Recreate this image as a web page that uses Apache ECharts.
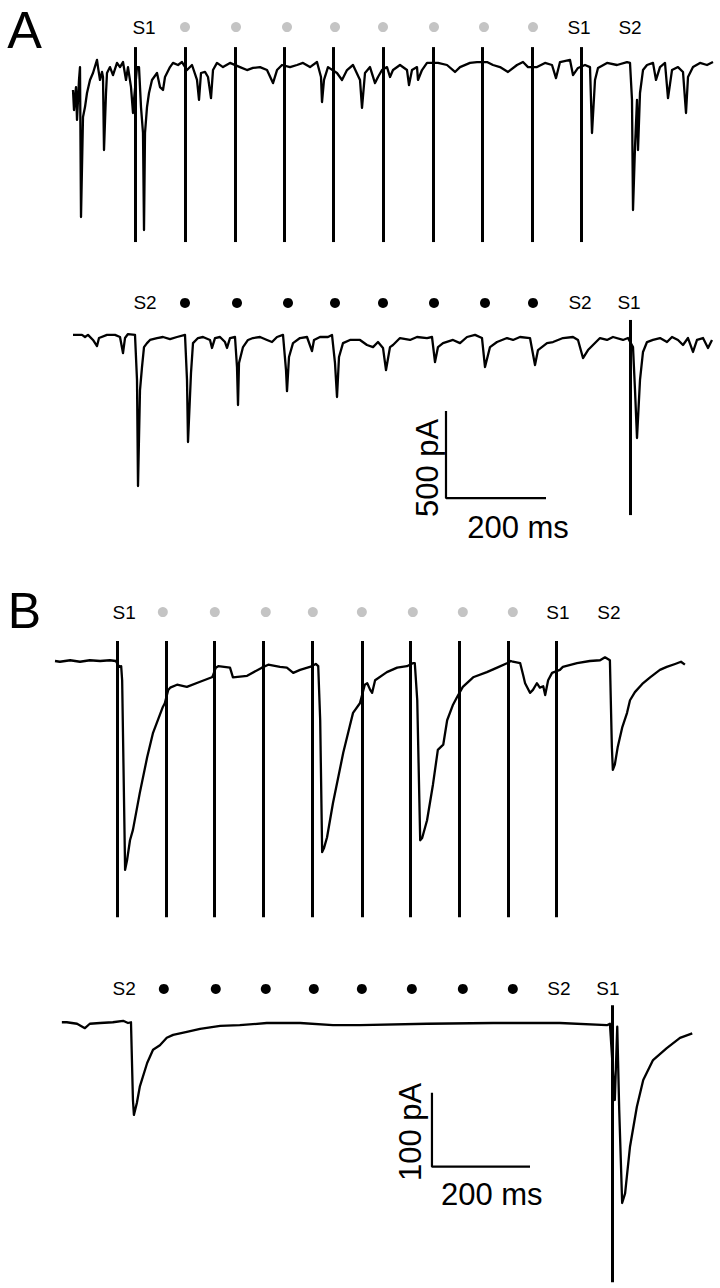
<!DOCTYPE html>
<html><head><meta charset="utf-8">
<script src="https://cdn.jsdelivr.net/npm/echarts@6/dist/echarts.min.js"></script>
<style>html,body{margin:0;padding:0;background:#fff}#c{width:720px;height:1288px}</style>
</head><body><div id="c"></div>
<script>
// ---------- DATA (time in ms, current in pA) ----------
// Panel A, top trace (S1 train then S1, S2)
const traceATop = [[2,-144],[4,-259],[8,-127],[10,-316],[14,-86],[16,-12],[18,-874],[22,-299],[26,-242],[30,-161],[36,-86],[42,-46],[50,29],[52,-12],[56,-86],[60,-40],[62,-69],[64,-489],[68,-161],[70,-46],[76,-12],[82,-58],[90,12],[96,-12],[102,17],[108,-86],[112,-12],[118,-127],[122,-276],[124,-201],[130,-12],[134,-12],[138,-242],[142,-391],[144,-949],[146,-391],[150,-242],[154,-161],[160,-86],[170,-46],[176,-127],[182,-144],[186,-69],[196,-12],[202,12],[212,0],[220,17],[230,-29],[240,0],[250,-86],[254,-201],[258,-46],[266,-40],[272,-69],[278,-190],[282,-29],[290,12],[302,-12],[316,12],[336,-12],[350,-29],[362,-17],[376,-12],[390,-29],[402,-104],[410,-29],[420,0],[436,-12],[450,0],[462,12],[476,-12],[490,17],[498,-69],[500,-213],[504,-86],[512,-12],[530,-46],[540,-86],[550,-29],[562,0],[576,-86],[580,-247],[586,-46],[596,-12],[606,-104],[612,-69],[620,-29],[630,-12],[636,-69],[642,-29],[656,0],[670,-29],[674,-115],[680,-29],[690,-12],[692,-86],[700,-29],[710,12],[732,12],[750,0],[766,-40],[776,-12],[796,12],[810,17],[830,17],[842,0],[856,-12],[872,-40],[890,0],[902,17],[912,-12],[930,-12],[946,12],[960,0],[968,-75],[976,17],[996,29],[1002,-58],[1012,-17],[1026,0],[1036,-12],[1040,-391],[1046,-86],[1052,-17],[1070,12],[1090,0],[1110,17],[1116,12],[1120,-201],[1122,-834],[1126,-472],[1130,-201],[1132,-489],[1136,-161],[1142,-29],[1150,0],[1162,12],[1168,-86],[1176,-12],[1186,12],[1192,-190],[1200,-29],[1212,-12],[1222,-40],[1228,-276],[1232,-69],[1242,-12],[1256,12],[1270,0],[1282,17]];
const stimATop = [126,226,326,424,522,622,722,820,920,1018];
const stimATopRange = [103,-1018];
const dotsATop = [226,328,430,526,622,724,824,922];
const labelsATop = [[144,'S1'],[1014,'S1'],[1116,'S2']];
const labelYATop = 218;

// Panel A, bottom trace (S2 train then S2, S1)
const traceABot = [[2,12],[20,12],[26,0],[32,12],[42,-17],[50,-52],[54,-6],[70,12],[86,12],[96,0],[102,-92],[106,-6],[112,17],[126,12],[130,-247],[132,-857],[136,-305],[140,-173],[144,-58],[150,-35],[156,-17],[170,-6],[182,0],[196,-12],[210,0],[226,12],[230,-247],[232,-604],[238,-207],[242,-35],[252,-6],[262,0],[276,-17],[280,-63],[286,-6],[296,0],[306,-29],[310,-63],[316,-6],[326,0],[330,-173],[332,-391],[334,-150],[342,-58],[352,-17],[362,-6],[376,0],[390,-17],[400,-29],[410,0],[422,12],[428,-190],[430,-311],[434,-115],[442,-35],[456,-6],[470,0],[480,-81],[484,-17],[496,0],[512,0],[520,12],[526,-150],[530,-345],[534,-115],[542,-35],[556,-17],[576,-17],[590,-46],[602,-58],[612,-29],[622,-63],[628,-190],[636,-58],[642,-46],[656,-6],[676,-17],[690,0],[710,-6],[720,0],[726,-144],[732,-58],[742,-35],[762,-17],[776,-35],[790,0],[806,12],[820,-6],[826,-173],[836,-58],[850,-29],[870,-6],[882,-17],[896,0],[916,-6],[926,-161],[932,-75],[950,-35],[962,-29],[982,-6],[1002,0],[1012,-17],[1022,-121],[1032,-75],[1042,-46],[1056,-6],[1070,-17],[1082,0],[1102,-17],[1112,-6],[1122,-58],[1126,-305],[1130,-581],[1136,-247],[1142,-86],[1150,-29],[1162,-17],[1176,-6],[1190,-29],[1200,0],[1212,-17],[1222,-46],[1232,-6],[1242,-86],[1250,-17],[1262,-6],[1272,-63],[1280,-17]];
const stimABot = [1116];
const stimABotRange = [98,-1024];
const dotsABot = [226,330,432,526,622,724,826,922];
const labelsABot = [[146,'S2'],[1016,'S2'],[1114,'S1']];
const labelYABot = 196;
const scaleBarA = [[748,-426],[748,-926],[948,-926]];   // 500 pA, 200 ms
const scaleTextA = [[710,-753,'500 pA',90],[892,-1098,'200 ms',0]];

// Panel B, top trace
const traceBTop = [[0,0],[10,-1],[31,1],[51,-1],[71,1],[92,0],[112,1],[124,0],[131,-8],[135,-7],[137,-26],[143,-282],[147,-269],[153,-242],[159,-228],[173,-178],[188,-130],[200,-97],[220,-62],[224,-57],[231,-39],[235,-36],[249,-32],[269,-35],[296,-28],[320,-22],[322,-20],[328,-9],[333,-7],[357,-9],[363,-22],[392,-20],[422,-9],[435,-5],[459,-8],[473,-9],[486,-16],[500,-12],[520,-8],[532,-4],[537,-7],[541,-80],[545,-258],[549,-252],[555,-238],[567,-192],[588,-124],[602,-86],[608,-70],[622,-57],[632,-32],[637,-30],[643,-39],[647,-43],[653,-26],[677,-15],[698,-9],[718,-7],[730,-3],[734,-3],[739,-53],[745,-242],[749,-239],[759,-215],[771,-167],[781,-120],[792,-113],[800,-80],[812,-59],[820,-49],[832,-35],[853,-22],[881,-15],[902,-9],[922,-3],[930,0],[934,-1],[949,-3],[955,-19],[959,-30],[969,-43],[975,-39],[983,-30],[989,-36],[996,-34],[1000,-46],[1006,-26],[1014,-16],[1030,-12],[1036,-8],[1065,-3],[1091,0],[1112,1],[1122,5],[1132,1],[1136,-116],[1138,-147],[1142,-140],[1148,-116],[1157,-90],[1167,-70],[1173,-53],[1183,-42],[1198,-31],[1214,-22],[1234,-12],[1248,-8],[1265,-4],[1277,-1],[1285,-5]];
const stimBTop = [126,226,324,424,524,626,724,824,924,1022];
const stimBTopRange = [27,-346];
const dotsBTop = [220,326,430,526,626,730,832,934];
const labelsBTop = [[141,'S1'],[1026,'S1'],[1130,'S2']];
const labelYBTop = 66;

// Panel B, bottom trace
const traceBBot = [[14,1],[24,1],[45,-1],[61,-7],[71,-1],[92,0],[118,1],[139,3],[149,0],[155,1],[159,-104],[161,-124],[167,-108],[173,-86],[188,-54],[200,-36],[214,-30],[228,-20],[241,-16],[269,-12],[296,-8],[337,-4],[377,-3],[432,0],[500,0],[567,-3],[622,-3],[759,-1],[894,0],[1030,0],[1126,-3],[1132,-1],[1142,-104],[1147,-5],[1151,-117],[1157,-243],[1163,-230],[1173,-167],[1187,-113],[1200,-77],[1220,-50],[1248,-34],[1275,-20],[1300,-14]];
const stimBBot = [1136];
const stimBBotRange = [24,-350];
const dotsBBot = [222,328,430,528,626,728,832,934];
const labelsBBot = [[141,'S2'],[1028,'S2'],[1128,'S1']];
const labelYBBot = 46;
const scaleBarB = [[769,-94],[769,-194],[969,-194]];   // 100 pA, 200 ms
const scaleTextB = [[726,-147,'100 pA',90],[891,-231,'200 ms',0]];

// ---------- CHART ----------
const FONT = 'Liberation Sans, Arial, Helvetica, sans-serif';
const grids = [
  {left:72, top:10,  width:642, height:240, x:[0,1284],   y:[-1063.75,316.25]},
  {left:72, top:285, width:642, height:260, x:[0,1284],   y:[-1196,299]},
  {left:55, top:595, width:645, height:330, x:[0,1315.8], y:[-356.4,89.1]},
  {left:55, top:975, width:645, height:310, x:[0,1315.8], y:[-353.7,64.8]}
];
const panels = [
  {trace:traceATop, stim:stimATop, range:stimATopRange, dots:dotsATop, dotColor:'#c4c4c4', labels:labelsATop, ly:labelYATop},
  {trace:traceABot, stim:stimABot, range:stimABotRange, dots:dotsABot, dotColor:'#000', labels:labelsABot, ly:labelYABot, bar:scaleBarA, barText:scaleTextA},
  {trace:traceBTop, stim:stimBTop, range:stimBTopRange, dots:dotsBTop, dotColor:'#c4c4c4', labels:labelsBTop, ly:labelYBTop},
  {trace:traceBBot, stim:stimBBot, range:stimBBotRange, dots:dotsBBot, dotColor:'#000', labels:labelsBBot, ly:labelYBBot, bar:scaleBarB, barText:scaleTextB}
];

const series = [];
panels.forEach((p, i) => {
  series.push({
    type:'line', xAxisIndex:i, yAxisIndex:i, data:p.trace, showSymbol:false, symbol:'none',
    lineStyle:{color:'#000', width:2.3, join:'round'}, animation:false, silent:true, clip:false,
    markLine:{symbol:'none', silent:true, animation:false, label:{show:false},
      lineStyle:{color:'#000', width:3, type:'solid', opacity:1},
      data:p.stim.map(t => [{coord:[t, p.range[0]]},{coord:[t, p.range[1]]}])}
  });
  series.push({
    type:'scatter', xAxisIndex:i, yAxisIndex:i, data:p.dots.map(t => [t, p.ly]),
    symbolSize:10, itemStyle:{color:p.dotColor, opacity:1}, animation:false, silent:true
  });
  series.push({
    type:'scatter', xAxisIndex:i, yAxisIndex:i, symbolSize:0, animation:false, silent:true,
    itemStyle:{opacity:1},
    data:p.labels.map(l => ({value:[l[0], p.ly], name:l[1]})),
    label:{show:true, position:'inside', formatter:'{b}', color:'#000', fontSize:19, fontFamily:FONT}
  });
  if (p.bar) {
    series.push({
      type:'line', xAxisIndex:i, yAxisIndex:i, data:p.bar, showSymbol:false, symbol:'none',
      lineStyle:{color:'#000', width:2.2}, animation:false, silent:true
    });
    series.push({
      type:'scatter', xAxisIndex:i, yAxisIndex:i, symbolSize:0, animation:false, silent:true,
      itemStyle:{opacity:1},
      data:p.barText.map(b => ({value:[b[0], b[1]], name:b[2], label:{rotate:b[3]}})),
      label:{show:true, position:'inside', formatter:'{b}', color:'#000', fontSize:31, fontFamily:FONT}
    });
  }
});

const chart = echarts.init(document.getElementById('c'), null, {renderer:'svg'});
chart.setOption({
  backgroundColor:'#fff',
  animation:false,
  graphic:[
    {type:'text', x:24.5, y:30, silent:true,
     style:{text:'A', fontSize:52, fontFamily:FONT, fill:'#000', align:'center', verticalAlign:'middle'}},
    {type:'text', x:24.5, y:611, silent:true,
     style:{text:'B', fontSize:50, fontFamily:FONT, fill:'#000', align:'center', verticalAlign:'middle'}}
  ],
  grid: grids.map(g => ({left:g.left, top:g.top, width:g.width, height:g.height, containLabel:false})),
  xAxis: grids.map((g, i) => ({type:'value', gridIndex:i, min:g.x[0], max:g.x[1], show:false})),
  yAxis: grids.map((g, i) => ({type:'value', gridIndex:i, min:g.y[0], max:g.y[1], show:false})),
  series: series
});
</script>
</body></html>
